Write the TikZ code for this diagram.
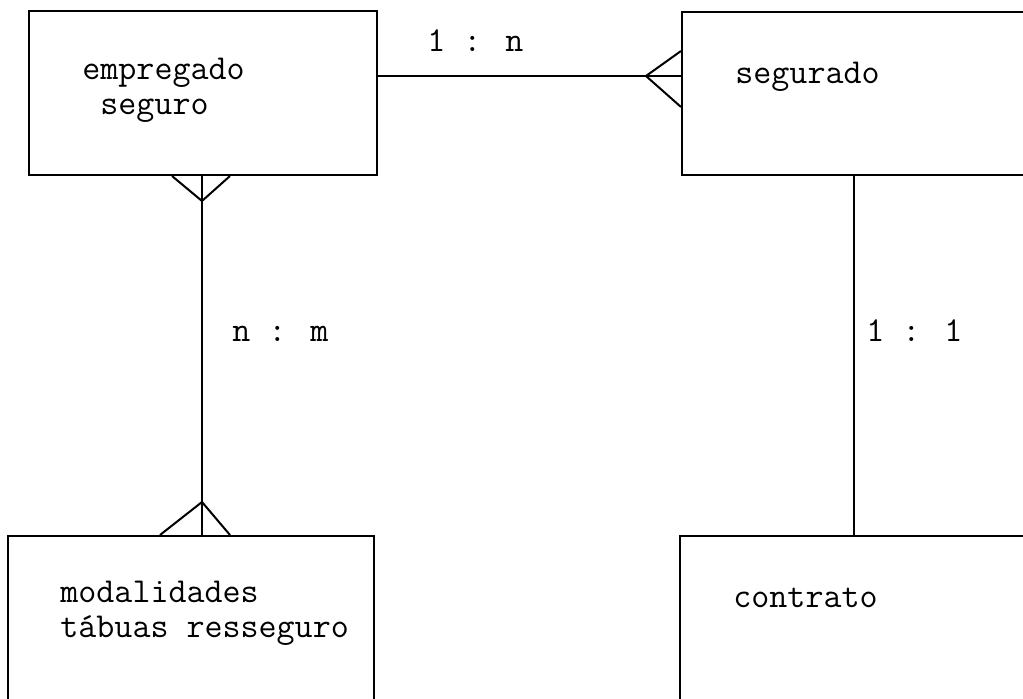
\documentclass[tikz,border=0pt]{standalone}
\usetikzlibrary{calc}
\begin{document}
\begin{tikzpicture}[x=0.5pt,y=-0.5pt,
  ent/.style={draw,line width=1pt,rectangle,inner sep=0pt},
  lbl/.style={anchor=base west,inner sep=0pt,font=\ttfamily\fontsize{17.5}{17.5}\selectfont},
  con/.style={line width=0.9pt},
  foot/.style={line width=1pt,line join=miter}]
\useasboundingbox (0,0) rectangle (1023,699);
% entities
\node[ent,minimum width=174pt,minimum height=82pt] (emp) at (203,93) {};
\node[ent,minimum width=179pt,minimum height=81.5pt] (seg) at (861,93.5) {};
\node[ent,minimum width=183pt,minimum height=87pt] (mod) at (191,623) {};
\node[ent,minimum width=180pt,minimum height=87pt] (ctr) at (860,623) {};
% texts
\node[lbl] (t1) at (82,80) {empregado};
\node[lbl] (t2) at (100,115) {seguro};
\node[lbl] (t3) at (735,84) {segurado};
\node[lbl] (t4) at (60,603) {modalidades};
\node[lbl] (t5) at (60,638) {tábuas resseguro};
\node[lbl] (t6) at (733,608) {contrato};
% relationship labels
\node[lbl] (r1) at (427,52) {1 : n};
\node[lbl] (r2) at (232,342) {n : m};
\node[lbl] (r3) at (866,342) {1 : 1};
% connectors
\coordinate (hy) at (0,76);
\coordinate (lx) at (202,0);
\coordinate (rx) at (854,0);
\draw[con] (emp.east |- hy) -- (seg.west |- hy);
\draw[foot] ($(seg.west |- hy)+(0,-25)$) -- ($(seg.west |- hy)+(-35,0)$) -- ($(seg.west |- hy)+(0,31)$);
\draw[con] (lx |- emp.south) -- (lx |- mod.north);
\draw[foot] ($(lx |- emp.south)+(-30,0)$) -- ($(lx |- emp.south)+(0,25)$) -- ($(lx |- emp.south)+(28,0)$);
\draw[foot] ($(lx |- mod.north)+(-42,0)$) -- ($(lx |- mod.north)+(0,-33)$) -- ($(lx |- mod.north)+(28,0)$);
\draw[con] (rx |- seg.south) -- (rx |- ctr.north);
\end{tikzpicture}
\end{document}
